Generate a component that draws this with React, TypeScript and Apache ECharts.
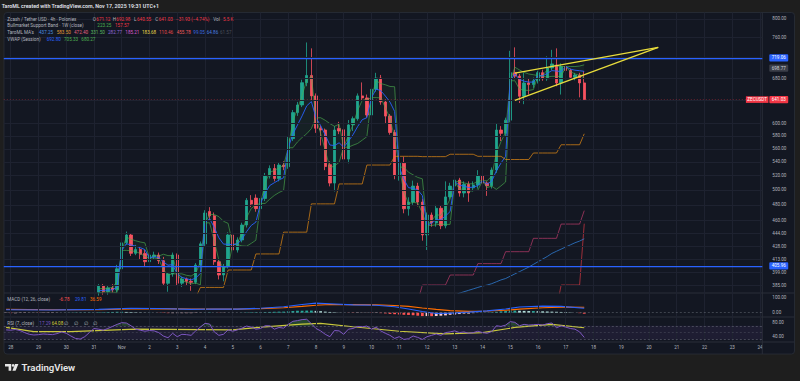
import React, { useEffect, useRef } from "react";
import * as echarts from "echarts";

// ---------------- data ----------------
const SLOTS = 164; // 4h slots, slot 0 = Oct 27 20:00
const FIRST_CANDLE = 20;
const categories = Array.from({ length: SLOTS }, (_, i) => String(i));
const dayLabels = ["28", "29", "30", "31", "Nov", "2", "3", "4", "5", "6", "7", "8", "9", "10", "11", "12", "13", "14", "15", "16", "17", "18", "19", "20", "21", "22", "23", "24"];
const DAY_OFFSET = 1;
const SLOTS_PER_DAY = 6;

const opens = [
  377.5, 384.3, 378, 382, 380,
  402.6, 432.4, 441.8, 420.1, 424.5, 420,
  410.5, 416, 418.2, 411.7, 386.9, 397,
  418.2, 387, 391.5, 389, 388, 406.8,
  431.2, 471.3, 465.7, 410.5, 395.8, 405,
  441.8, 424, 435.8, 454.1, 486, 489,
  475, 488.5, 519.5, 530.5, 516, 535.5,
  533, 575.8, 618.5, 631.6, 671.5, 685,
  647.6, 592.4, 589.6, 536, 509.6, 592,
  590, 544.3, 598, 608.3, 647.6, 644,
  614.4, 659.5, 680.1, 636.8, 612.6, 585.6,
  521, 538.3, 474.8, 483.7, 505.4, 483.7,
  441.8, 466.8, 456.6, 475.5, 453.2, 490.6,
  505.4, 513.9, 495.9, 507.8, 503, 507,
  519.5, 509.6, 505.8, 528.2, 589.6, 584.2,
  605.8, 690.3, 683.8, 647, 671, 668,
  675, 690.3, 678.9, 699.3, 705, 671,
  702, 694.5, 681.5, 685.9, 671.12,
];
const closes = [
  384.3, 378, 382, 380, 402.6,
  432.4, 441.8, 420.1, 424.5, 419, 410.5,
  418.2, 418.2, 411.7, 386.9, 397, 418.2,
  387, 391.5, 389, 388, 406.8, 431.2,
  469.4, 465.7, 410.5, 395.8, 405, 441.8,
  424, 435.8, 454.1, 486, 481, 475,
  488.5, 519.5, 530.5, 516, 535.5, 533,
  575.8, 618.5, 631.6, 671.5, 685, 647.6,
  592.4, 589.6, 533.3, 509.6, 589.6, 588,
  544.3, 598, 608.3, 647.6, 644, 614.4,
  659.5, 680.1, 636.8, 612.6, 585.6, 521,
  538.3, 474.8, 483.7, 505.4, 483.7, 441.8,
  466.8, 456.6, 475.5, 453.2, 490.6, 505.4,
  513.9, 495.9, 507.8, 495.9, 507, 519.5,
  509.6, 505.8, 528.2, 589.6, 584.2, 605.8,
  690.3, 683.8, 647, 671, 668, 675,
  690.3, 678.9, 699.3, 707, 671, 702,
  694.5, 681.5, 685.9, 671.12, 641.03,
];
const lows = [
  374, 375, 375, 377, 377,
  400, 430, 417, 418, 413, 405,
  405, 413, 408, 384, 378, 394,
  384, 383, 385, 379, 386, 404,
  428, 460, 407, 391, 389, 403,
  420, 421, 433, 451, 477, 471,
  466, 485, 516, 512, 512, 528,
  530, 572, 613, 628, 665, 640,
  585, 565, 528, 505, 498, 583,
  540, 538, 588, 605, 640, 610,
  610, 655, 632, 600, 582, 515,
  513, 469, 466, 480, 478, 435,
  424, 452, 452, 449, 450, 487,
  502, 491, 490, 484, 498, 502,
  506, 492, 502, 524, 572, 580,
  602, 678, 635, 633, 650, 662,
  670, 675, 675, 695, 665, 650,
  690, 678, 676, 645, 640.55,
];
const highs = [
  386, 386, 384, 386, 407,
  438, 446, 444, 430, 427, 424,
  421, 422, 421, 416, 399, 421,
  420, 394, 393, 392, 409, 434,
  473, 477, 470, 413, 408, 445,
  447, 439, 457, 489, 493, 494,
  491, 524, 535, 537, 540, 541,
  579, 623, 637, 677, 750, 738,
  652, 597, 592, 541, 596, 603,
  603, 606, 612, 652, 672, 650,
  664, 690, 686, 641, 616, 590,
  546, 548, 490, 513, 510, 488,
  470, 470, 480, 479, 512, 510,
  519, 517, 512, 512, 512, 528,
  523, 512, 532, 600, 596, 610,
  733, 740, 688, 690, 680, 681,
  694, 696, 722, 735, 738, 708,
  710, 698, 690, 690, 692.98,
];

// VWAP (Session) with bands, from slot 20
const vwap = [
  379, 379.5, 379.7, 380, 383,
  423.5, 431.4, 429.9, 428.5, 426.7, 424.5,
  414.7, 416.2, 415.3, 410.4, 406.6, 407.3,
  397, 393.3, 391.8, 390.5, 392.5, 397.6,
  456.8, 462.2, 451.2, 438.4, 430.9, 430.7,
  430.3, 431.1, 436.7, 446, 453.6, 457.7,
  481.8, 495.7, 506.2, 510.1, 513.9, 517.2,
  561.6, 583, 597.8, 613, 630.1, 637.6,
  609.8, 596.9, 581.6, 565.8, 564.9, 569.3,
  562.4, 571.6, 582, 595.2, 606.6, 609.9,
  644.5, 659.8, 657, 647.3, 636.7, 620.6,
  532.4, 514.9, 503.2, 502.3, 500, 492.4,
  453.6, 456.6, 460.8, 460.7, 465.4, 471.3,
  511.6, 506.5, 505.4, 503.4, 503.9, 506,
  512.9, 508.1, 512.3, 527, 538.4, 548.5,
  675.1, 687.9, 677.5, 674.3, 672.6, 672.6,
  684.8, 684.1, 689, 694.2, 693.4, 692.3,
  702, 697, 695, 694, 692.8,
];
const vwapUpper = [
  381, 381.5, 381.7, 382.5, 389,
  423.5, 439.3, 436.7, 434.9, 433.4, 432.4,
  414.7, 417.7, 417, 419.1, 417.5, 417.4,
  397, 397.1, 395.5, 394.7, 397.9, 410,
  456.8, 467.6, 467.4, 464.7, 458.8, 456.2,
  430.3, 431.9, 444.7, 463.6, 475.4, 479.9,
  481.8, 509.6, 524.9, 527.6, 531.3, 534.8,
  561.6, 604.5, 625, 648.4, 676.6, 683.3,
  609.8, 609.9, 605.6, 600.1, 595.7, 599.1,
  562.4, 580.8, 598.5, 622.2, 639.8, 640.9,
  644.5, 675.1, 670, 667.7, 664.6, 664.1,
  532.4, 532.5, 525, 521.3, 517.6, 515.6,
  453.6, 459.6, 467.2, 466.3, 476, 487.7,
  511.6, 511.7, 509.8, 508.6, 508.7, 512.4,
  512.9, 512.9, 519.4, 553.2, 571.1, 585.9,
  675.1, 700.7, 695.5, 690.8, 687.8, 686.4,
  684.8, 684.9, 696, 705.1, 703.3, 701.7,
  702, 702, 702, 703, 705.33,
];
const vwapLower = [
  377, 377.5, 377.7, 377.5, 377,
  423.5, 423.5, 423.1, 422.1, 420, 416.6,
  414.7, 414.7, 413.6, 401.7, 395.7, 397.2,
  397, 389.5, 388.1, 386.3, 387.1, 385.2,
  456.8, 456.8, 435, 412.1, 403, 405.2,
  430.3, 430.3, 428.7, 428.4, 431.8, 435.5,
  481.8, 481.8, 487.5, 492.6, 496.5, 499.6,
  561.6, 561.5, 570.6, 577.6, 583.6, 591.9,
  609.8, 583.9, 557.6, 531.5, 534.1, 539.5,
  562.4, 562.4, 565.5, 568.2, 573.4, 578.9,
  644.5, 644.5, 644, 626.9, 608.8, 577.1,
  532.4, 497.3, 481.4, 483.3, 482.4, 469.2,
  453.6, 453.6, 454.4, 455.1, 454.8, 454.9,
  511.6, 501.3, 501, 498.2, 499.1, 499.6,
  512.9, 503.3, 505.2, 500.8, 505.7, 511.1,
  675.1, 675.1, 659.5, 657.8, 657.4, 658.8,
  684.8, 683.3, 682, 683.3, 683.5, 682.9,
  702, 692, 688, 685, 680.27,
];

// higher-timeframe MAs: [first slot, level]
const maOrangeSteps = [[41, 372], [42, 382.5], [48, 401.3], [54, 419.4], [60, 445.3], [66, 481.3], [72, 508.4], [78, 535.5], [84, 548.5], [90, 548], [96, 551.6], [102, 548.5], [108, 543.7], [114, 553.5], [120, 566.2], [125, 583.5]];
const maPinkSteps = [[89, 368], [90, 385.1], [96, 395.8], [102, 408.4], [108, 422], [114, 437.8], [120, 455.3], [125, 472.4]];
const maRedSteps = [[119, 360], [120, 385.1], [125, 455.78]];
const MA_BLUE_START = 97;
const maBlue = [374, 376.5, 378, 379.5, 381, 382.5, 384, 385, 386.5, 388.5, 390.5, 392, 394.5, 397, 399.5, 402, 404.5, 407.5, 410.5, 413.5, 416.5, 420, 422.5, 425, 427.5, 430, 432.5, 434.5, 437.25];

// rising wedge drawing
const wedgeUpper = [[110, 689.5], [141, 740]];
const wedgeLower = [[110, 639.5], [141, 740]];

// price scale
const priceTicks = [800, 760, 720, 680, 640, 600, 580, 560, 540, 520, 500, 480, 460, 444, 428, 413, 399, 385];
const hiddenPriceLabels = [720, 640];
const levelHigh = 719.06;
const levelLow = 405.96;
const lastPrice = 641.03;
const markedPrice = 698.77;

// MACD (12, 26, close)
const macdLine = [[0, 20], [10, 18], [20, 22], [27, 30], [33, 28], [40, 22], [45, 25], [50, 24], [55, 30], [60, 40], [64, 55], [67, 64], [70, 60], [75, 52], [80, 50], [84, 40], [87, 25], [90, 8], [93, -5], [96, -3], [100, 4], [104, 12], [108, 25], [111, 38], [116, 44], [120, 42], [125, 29.81]];
const macdSignal = [[0, 22], [10, 20], [20, 20], [27, 25], [33, 27], [40, 25], [45, 24], [50, 24], [55, 27], [60, 33], [64, 42], [67, 50], [70, 55], [75, 54], [80, 52], [84, 48], [87, 42], [90, 31], [93, 22], [96, 14], [100, 9], [104, 11], [108, 16], [111, 24], [116, 33], [120, 37], [125, 36.59]];
const macdHist = [
  -2, -3, -3, -2, -2, -1, -1, -2, -2, -2,
  -2, -1, 0, 1, 1, 2, 2, 2, 2, 2,
  3, 3, 4, 5, 6, 6, 5, 4, 3, 2,
  1, 1, 0, -1, -2, -3, -3, -3, -3, -3,
  -3, -2, -1, 1, 2, 0, -1, -1, 0, 0,
  0, 1, 2, 3, 3, 3, 4, 5, 6, 7,
  7, 9, 11, 13, 13, 14, 14, 12, 10, 7,
  5, 3, 1, 0, -1, -2, -2, -1, -1, -2,
  -2, -3, -5, -8, -10, -12, -14, -15, -17, -20,
  -23, -23, -24, -22, -20, -18, -14, -12, -9, -6,
  -6, -3, -1, 1, 1, 3, 6, 9, 11, 14,
  14, 13, 12, 11, 11, 10, 9, 8, 7, 6,
  5, 4, 2, 0, -3, -6.78,
];

// RSI (7, close)
const rsi = [
  58, 57, 59, 56, 50, 45, 43, 44, 46, 45,
  44, 47, 52, 48, 40, 33, 31, 38, 50, 62,
  60, 57, 62, 68, 74, 79, 78, 70, 60, 57,
  54, 56, 55, 50, 40, 35, 48, 38, 45, 44,
  42, 55, 66, 77, 75, 52, 42, 45, 58, 54,
  58, 63, 69, 66, 60, 62, 70, 70, 60, 65,
  63, 74, 83, 85, 88, 89, 76, 62, 55, 45,
  38, 56, 55, 45, 60, 62, 68, 67, 69, 60,
  66, 55, 48, 42, 33, 38, 30, 32, 40, 36,
  30, 38, 42, 46, 42, 50, 52, 55, 50, 52,
  48, 50, 54, 50, 48, 53, 70, 68, 72, 82,
  80, 70, 74, 72, 73, 74, 72, 76, 78, 64,
  70, 66, 62, 60, 52, 36,
];
const rsiMA = [[0, 65], [6, 53], [14, 53], [28, 60], [49, 58], [56, 67], [64, 75], [68, 77], [75, 67], [85, 54], [95, 46], [103, 50], [110, 65], [118, 74], [125, 64.08]];
const RSI_UPPER = 70, RSI_MID = 50, RSI_LOWER = 30;

// legends
const headerText = "TaroML created with TradingView.com, Nov 17, 2025 19:31 UTC+1";
const legendRow1 = [[7.3, "Zcash / Tether USD · 4h · Poloniex", "t"], [92.7, "O", "t"], [96.3, "671.12", "r"], [112.7, "H", "t"], [116.3, "692.98", "r"], [134, "L", "t"], [137, "640.55", "r"], [155.3, "C", "t"], [158.7, "641.03", "r"], [176, "−31.93 (−4.74%)", "r"], [213.3, "Vol", "t"], [223, "5.5 K", "r"]];
const legendRow2 = [[7.3, "Bullmarket Support Band · 1W (close)", "t"], [97.3, "223.25", "#4caf50"], [115, "157.57", "r"]];
const maValues = ["437.25", "583.50", "472.40", "331.50", "282.77", "185.21", "183.68", "110.46", "455.78", "99.05", "64.86", "61.57"];
const maValueX = [39, 56.7, 74, 90.7, 108, 125.3, 142, 159, 176.7, 193.3, 206.7, 220];
const maColors = ["#4a8fe0", "#e39a35", "#e0607f", "#5cb860", "#8e6ad8", "#d85ad0", "#e6d548", "#e34a4a", "#ef5a5a", "#3d6ae0", "#4a7fe0", "#4a4e58"];
const legendRow4 = [[7.3, "VWAP (Session)", "t"], [46.7, "692.80", "#2962ff"], [64, "705.33", "#4caf50"], [81.3, "680.27", "#4caf50"]];
const legendMacd = [[7.3, "MACD (12, 26, close)", "t"], [59.3, "-6.78", "#ff5252"], [75, "29.81", "#2962ff"], [90, "36.59", "#ff6d00"]];
const legendRsi = [[7.3, "RSI (7, close)", "t"], [39.3, "17.29", "#7e57c2"], [51.7, "64.08", "#d6cf3a"], [64.3, "∅", "t"], [74, "∅", "t"], [83.5, "∅", "t"], [93.3, "∅", "t"]];

// ---------------- helpers ----------------
const FONT = "Roboto, 'Noto Sans', sans-serif";
const UP = "#1fa68e";
const DOWN = "#f7525f";
const PANEL_BG = "#131722";
const GRID_LINE = "#1e2230";
const SEP = "#2a2e39";
const AXIS_TXT = "#b2b5be";
const LEG_TXT = "#b2b5be";
const LEG_RED = "#f23645";
const LEG_SIZE = 4.6;
const AXIS_SIZE = 4.6;

function pad(arr: number[], start: number) {
  const out: (number | null)[] = new Array(SLOTS).fill(null);
  arr.forEach((v, k) => (out[start + k] = v));
  return out;
}
function fromSteps(steps: number[][]) {
  const out: (number | null)[] = new Array(SLOTS).fill(null);
  for (let k = 0; k < steps.length; k++) {
    const [s, v] = steps[k];
    const end = k + 1 < steps.length ? steps[k + 1][0] : s + 1;
    for (let i = s; i < end; i++) out[i] = v;
  }
  return out;
}
const dayStarts = dayLabels.map((_, k) => DAY_OFFSET + SLOTS_PER_DAY * k);

function txt(x: number, y: number, text: string, fill: string, size = LEG_SIZE, weight: any = "normal") {
  return {
    type: "text", x, y, z: 50, silent: true,
    style: { text, fill, fontSize: size, fontFamily: FONT, fontWeight: weight, verticalAlign: "middle", align: "left" },
  };
}
function legendTexts(items: any[], y: number) {
  return items.map(([x, t, c]) => txt(x, y, t, c === "t" ? LEG_TXT : c === "r" ? LEG_RED : c));
}

const INVISIBLE = { color: "rgba(0,0,0,0)", width: 0 };

function buildOption() {
  const candleData = opens.map((o, k) => [FIRST_CANDLE + k, o, closes[k], lows[k], highs[k]]);
  const lowerPadded = pad(vwapLower, FIRST_CANDLE);
  const bandDiff = pad(vwapUpper.map((u, k) => u - vwapLower[k]), FIRST_CANDLE);

  const lineBase = { type: "line", symbol: "none", showSymbol: false, silent: true, connectNulls: false };
  const main = { xAxisIndex: 0, yAxisIndex: 0 };
  const macdAx = { xAxisIndex: 1, yAxisIndex: 1 };
  const rsiAx = { xAxisIndex: 2, yAxisIndex: 2 };
  const vGridData = dayStarts.map((s) => ({ xAxis: s, lineStyle: { color: GRID_LINE, width: 1, type: "solid" }, label: { show: false } }));
  const boxLabel = (text: string, bg: string, color = "#ffffff") => ({
    show: true, position: "end", distance: 7, formatter: text, backgroundColor: bg, color,
    fontSize: AXIS_SIZE, fontFamily: FONT, padding: [1.3, 2.4, 0.9, 2.4], borderRadius: 1,
  });
  const plainLabel = (text: string, show = true) => ({
    show, position: "end", distance: 10, formatter: text, color: AXIS_TXT, fontSize: AXIS_SIZE, fontFamily: FONT,
  });

  const graphics: any[] = [
    { type: "rect", z: -10, silent: true, shape: { x: 4, y: 12.5, width: 790.5, height: 341.5, r: 3 }, style: { fill: PANEL_BG, stroke: SEP, lineWidth: 0.8 } },
    { type: "line", z: 5, silent: true, shape: { x1: 762.3, y1: 12.5, x2: 762.3, y2: 354 }, style: { stroke: SEP, lineWidth: 1 } },
    { type: "line", z: 5, silent: true, shape: { x1: 4, y1: 293, x2: 794.5, y2: 293 }, style: { stroke: SEP, lineWidth: 1 } },
    { type: "line", z: 5, silent: true, shape: { x1: 4, y1: 317, x2: 794.5, y2: 317 }, style: { stroke: SEP, lineWidth: 1 } },
    { type: "line", z: 5, silent: true, shape: { x1: 4, y1: 342, x2: 794.5, y2: 342 }, style: { stroke: SEP, lineWidth: 1 } },
    txt(1.7, 5.6, headerText, "#e0e3eb", 5.3, 600),
    ...legendTexts(legendRow1, 19),
    ...legendTexts(legendRow2, 25.8),
    txt(7.3, 32.6, "TaroML MA's", LEG_TXT),
    ...maValues.map((v, k) => txt(maValueX[k], 32.6, v, maColors[k])),
    ...legendTexts(legendRow4, 39.4),
    ...legendTexts(legendMacd, 299.3),
    ...legendTexts(legendRsi, 323.3),
    // TradingView logo
    { type: "polygon", z: 50, silent: true, shape: { points: [[5, 364], [11.2, 364], [11.2, 370.8], [8.6, 370.8], [8.6, 366.6], [5, 366.6]] }, style: { fill: "#e6e6e6" } },
    { type: "circle", z: 50, silent: true, shape: { cx: 13.1, cy: 365.4, r: 1.35 }, style: { fill: "#e6e6e6" } },
    { type: "polygon", z: 50, silent: true, shape: { points: [[15, 364], [18.4, 364], [15.6, 370.8], [12.4, 370.8]] }, style: { fill: "#e6e6e6" } },
    txt(21.5, 367.6, "TradingView", "#e6e6e6", 9.6, 600),
  ];

  const series: any[] = [
    // ---- main pane grid lines & price labels
    {
      ...lineBase, ...main, data: [], z: 1,
      markLine: {
        silent: true, symbol: ["none", "none"], animation: false,
        data: [
          ...priceTicks.map((v) => ({ yAxis: v, lineStyle: { color: GRID_LINE, width: 1, type: "solid" }, label: plainLabel(v.toFixed(2), !hiddenPriceLabels.includes(v)) })),
          ...vGridData,
        ],
      },
    },
    // VWAP band fill
    { ...lineBase, ...main, data: lowerPadded, stack: "band", lineStyle: { opacity: 0 }, z: 2 },
    { ...lineBase, ...main, data: bandDiff, stack: "band", lineStyle: { opacity: 0 }, areaStyle: { color: "rgba(76,175,80,0.10)" }, z: 2 },
    { ...lineBase, ...main, data: pad(vwapUpper, FIRST_CANDLE), lineStyle: { color: "rgba(76,175,80,0.7)", width: 0.9 }, z: 4 },
    { ...lineBase, ...main, data: pad(vwapLower, FIRST_CANDLE), lineStyle: { color: "rgba(76,175,80,0.7)", width: 0.9 }, z: 4 },
    { ...lineBase, ...main, data: pad(vwap, FIRST_CANDLE), lineStyle: { color: "#2962ff", width: 0.9 }, z: 4 },
    // HTF moving averages
    { ...lineBase, ...main, data: fromSteps(maOrangeSteps), lineStyle: { color: "rgba(230,140,20,0.7)", width: 1 }, z: 4 },
    { ...lineBase, ...main, data: fromSteps(maPinkSteps), lineStyle: { color: "rgba(216,67,120,0.6)", width: 1 }, z: 4 },
    { ...lineBase, ...main, data: fromSteps(maRedSteps), lineStyle: { color: "rgba(230,60,70,0.65)", width: 1 }, z: 4 },
    { ...lineBase, ...main, data: pad(maBlue, MA_BLUE_START), lineStyle: { color: "rgba(50,130,220,0.75)", width: 1 }, z: 4 },
    // candles
    {
      type: "candlestick", ...main, data: candleData, encode: { x: 0, y: [1, 2, 3, 4] }, z: 3, silent: true,
      barWidth: 2.8,
      itemStyle: { color: UP, color0: DOWN, borderColor: UP, borderColor0: DOWN, borderWidth: 0.8 },
    },
    // wedge
    { ...lineBase, ...main, data: wedgeUpper, lineStyle: { color: "#e8dc3c", width: 1.3 }, z: 6 },
    { ...lineBase, ...main, data: wedgeLower, lineStyle: { color: "#e8dc3c", width: 1.3 }, z: 6 },
    // key levels
    {
      ...lineBase, ...main, data: [], z: 7,
      markLine: {
        silent: true, symbol: ["none", "none"], animation: false,
        data: [
          { yAxis: levelHigh, lineStyle: { color: "#2962ff", width: 1.25, type: "solid" }, label: boxLabel(levelHigh.toFixed(2), "#2962ff") },
          { yAxis: levelLow, lineStyle: { color: "#2962ff", width: 1.25, type: "solid" }, label: boxLabel(levelLow.toFixed(2), "#2962ff") },
          { yAxis: lastPrice, lineStyle: { color: "rgba(242,54,69,0.45)", width: 0.8, type: [1, 2] }, label: boxLabel(lastPrice.toFixed(2), "#f23645") },
          { yAxis: markedPrice, lineStyle: INVISIBLE, label: boxLabel(markedPrice.toFixed(2), "#3b3e48", "#d1d4dc") },
        ],
      },
      markPoint: {
        silent: true, animation: false,
        data: [{
          coord: [162, lastPrice], symbol: "rect", symbolSize: [22.5, 6.6], symbolOffset: [1.8, 0],
          itemStyle: { color: "#f23645" },
          label: { show: true, position: "inside", formatter: "ZECUSDT", color: "#ffffff", fontSize: AXIS_SIZE, fontFamily: FONT },
        }],
      },
    },
    // ---- MACD pane
    {
      ...lineBase, ...macdAx, data: [], z: 1,
      markLine: {
        silent: true, symbol: ["none", "none"], animation: false,
        data: [
          ...vGridData,
          { yAxis: 0, lineStyle: { color: "rgba(120,123,134,0.55)", width: 0.8, type: [2, 2] }, label: plainLabel("0.00") },
          { yAxis: 100, lineStyle: INVISIBLE, label: plainLabel("100.00") },
        ],
      },
    },
    {
      type: "bar", ...macdAx, data: macdHist, barWidth: 2.8, silent: true, z: 3,
      itemStyle: {
        color: (p: any) => {
          const v = macdHist[p.dataIndex];
          const prev = p.dataIndex > 0 ? macdHist[p.dataIndex - 1] : v;
          if (v >= 0) return v >= prev ? "#26a69a" : "#b2dfdb";
          return v >= prev ? "#ffcdd2" : "#ff5252";
        },
      },
    },
    { ...lineBase, ...macdAx, data: macdSignal, lineStyle: { color: "#ff6d00", width: 1.1 }, z: 4 },
    { ...lineBase, ...macdAx, data: macdLine, lineStyle: { color: "#2962ff", width: 1.1 }, z: 4 },
    // ---- RSI pane
    {
      ...lineBase, ...rsiAx, data: [], z: 1,
      markArea: { silent: true, itemStyle: { color: "rgba(126,87,194,0.10)" }, data: [[{ yAxis: RSI_UPPER }, { yAxis: RSI_LOWER }]] },
      markLine: {
        silent: true, symbol: ["none", "none"], animation: false,
        data: [
          ...vGridData,
          { yAxis: RSI_UPPER, lineStyle: { color: "rgba(120,123,134,0.6)", width: 0.8, type: [2, 2] }, label: { show: false } },
          { yAxis: RSI_MID, lineStyle: { color: "rgba(120,123,134,0.35)", width: 0.8, type: [2, 2] }, label: { show: false } },
          { yAxis: RSI_LOWER, lineStyle: { color: "rgba(120,123,134,0.6)", width: 0.8, type: [2, 2] }, label: { show: false } },
          { yAxis: 80, lineStyle: INVISIBLE, label: plainLabel("80.00") },
          { yAxis: 40, lineStyle: INVISIBLE, label: plainLabel("40.00") },
        ],
      },
    },
    { ...lineBase, ...rsiAx, data: rsi.map(() => RSI_UPPER), stack: "ob", lineStyle: { opacity: 0 }, z: 2 },
    { ...lineBase, ...rsiAx, data: rsi.map((v) => Math.max(v - RSI_UPPER, 0)), stack: "ob", lineStyle: { opacity: 0 }, areaStyle: { color: "rgba(76,175,80,0.45)" }, z: 2 },
    { ...lineBase, ...rsiAx, data: rsiMA, lineStyle: { color: "#c9c83c", width: 1.2 }, z: 4 },
    { ...lineBase, ...rsiAx, data: rsi, lineStyle: { color: "#7e57c2", width: 1 }, z: 5 },
  ];

  const hiddenX = (g: number) => ({
    type: "category", gridIndex: g, data: categories, boundaryGap: true,
    axisLine: { show: false }, axisTick: { show: false }, splitLine: { show: false },
    axisLabel: g === 2
      ? {
          show: true, color: AXIS_TXT, fontSize: AXIS_SIZE, fontFamily: FONT, margin: 3,
          interval: (i: number) => i >= DAY_OFFSET && (i - DAY_OFFSET) % SLOTS_PER_DAY === 0,
          formatter: (_v: string, i: number) => dayLabels[(i - DAY_OFFSET) / SLOTS_PER_DAY] || "",
        }
      : { show: false },
  });
  const hiddenY = (g: number, extra: any) => ({
    gridIndex: g, axisLine: { show: false }, axisTick: { show: false }, axisLabel: { show: false }, splitLine: { show: false }, ...extra,
  });

  return {
    backgroundColor: "#1e1e1e",
    animation: false,
    textStyle: { fontFamily: FONT },
    graphic: { elements: graphics },
    grid: [
      { left: 3.8, width: 758.5, top: 12.5, height: 280.5 },
      { left: 3.8, width: 758.5, top: 293, height: 24 },
      { left: 3.8, width: 758.5, top: 317, height: 25 },
    ],
    xAxis: [hiddenX(0), hiddenX(1), hiddenX(2)],
    yAxis: [
      hiddenY(0, { type: "log", logBase: 10, min: 376.71, max: 814.42 }),
      hiddenY(1, { type: "value", min: -28.7, max: 131.3 }),
      hiddenY(2, { type: "value", min: 22.55, max: 95.55 }),
    ],
    series,
  };
}

export default function App() {
  const ref = useRef<HTMLDivElement>(null);
  useEffect(() => {
    const chart = echarts.init(ref.current as HTMLDivElement, undefined, { renderer: "svg" });
    chart.setOption(buildOption() as any);
    return () => chart.dispose();
  }, []);
  return <div ref={ref} style={{ position: "fixed", left: 0, top: 0, width: 800, height: 381 }} />;
}
